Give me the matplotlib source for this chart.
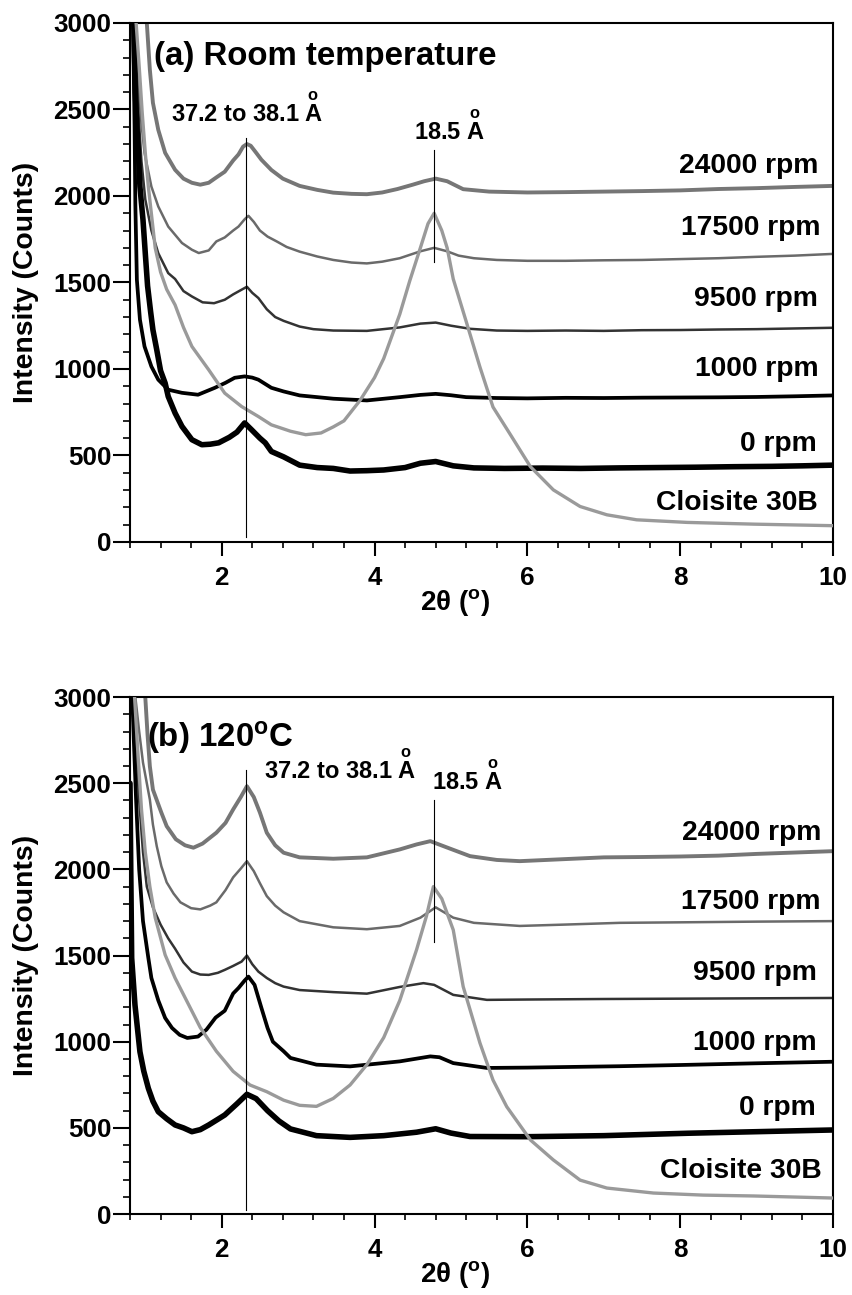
import numpy as np
import matplotlib
matplotlib.use("Agg")
import matplotlib.pyplot as plt
from matplotlib.ticker import MultipleLocator

plt.rcParams.update({
    "font.family": ["Liberation Sans", "DejaVu Sans"],
    "font.weight": "bold",
    "mathtext.fontset": "custom",
    "mathtext.rm": "Liberation Sans:bold",
    "mathtext.it": "Liberation Sans:bold",
    "mathtext.bf": "Liberation Sans:bold",
    "axes.linewidth": 1.5,
})

# ---------------------------------------------------------------------------
# XRD patterns, 2-theta (deg) vs intensity (counts)
# (a) room temperature
RT_24000_X = [1.02, 1.06, 1.10, 1.17, 1.26, 1.39, 1.50, 1.61, 1.72, 1.83, 1.93, 2.04, 2.15, 2.22,
              2.28, 2.33, 2.38, 2.45, 2.52, 2.65, 2.80, 3.02, 3.25, 3.46, 3.70, 3.90, 4.10, 4.30,
              4.50, 4.65, 4.80, 4.95, 5.16, 5.50, 6.00, 6.50, 7.00, 7.50, 8.00, 8.50, 9.00, 9.50, 10.0]
RT_24000_Y = [3000, 2729, 2538, 2382, 2249, 2151, 2100, 2076, 2065, 2076, 2107, 2140, 2205, 2240,
              2285, 2300, 2290, 2250, 2209, 2150, 2100, 2058, 2035, 2019, 2012, 2010, 2020, 2040,
              2065, 2085, 2100, 2085, 2039, 2025, 2020, 2022, 2025, 2028, 2032, 2040, 2045, 2052, 2058]

RT_17500_X = [0.87, 0.91, 0.95, 0.99, 1.08, 1.17, 1.30, 1.48, 1.61, 1.70, 1.83, 1.93, 2.04, 2.15,
              2.22, 2.30, 2.35, 2.42, 2.50, 2.60, 2.72, 2.85, 3.02, 3.25, 3.46, 3.70, 3.90, 4.10,
              4.33, 4.60, 4.78, 4.95, 5.10, 5.30, 5.60, 6.00, 6.50, 7.00, 7.50, 8.00, 8.50, 9.00,
              9.50, 10.0]
RT_17500_Y = [3000, 2632, 2420, 2249, 2054, 1939, 1823, 1728, 1689, 1670, 1685, 1737, 1760, 1800,
              1823, 1865, 1885, 1850, 1800, 1765, 1737, 1705, 1678, 1650, 1630, 1615, 1610, 1620,
              1640, 1680, 1700, 1680, 1655, 1640, 1630, 1625, 1625, 1628, 1630, 1635, 1640, 1648,
              1655, 1665]

RT_9500_X = [0.86, 0.90, 0.95, 1.00, 1.08, 1.17, 1.30, 1.39, 1.50, 1.61, 1.75, 1.90, 2.04, 2.15,
             2.26, 2.33, 2.40, 2.48, 2.59, 2.70, 2.81, 3.02, 3.20, 3.46, 3.90, 4.33, 4.60, 4.80,
             5.00, 5.25, 5.60, 6.00, 6.50, 7.00, 7.50, 8.00, 8.50, 9.00, 9.50, 10.0]
RT_9500_Y = [3000, 2550, 2200, 1980, 1800, 1669, 1554, 1520, 1450, 1419, 1385, 1380, 1400, 1431,
             1458, 1475, 1440, 1410, 1345, 1300, 1278, 1245, 1230, 1222, 1220, 1240, 1262, 1268,
             1250, 1232, 1222, 1220, 1222, 1220, 1224, 1225, 1228, 1230, 1234, 1238]

RT_1000_X = [0.84, 0.86, 0.87, 0.89, 0.93, 0.99, 1.08, 1.17, 1.30, 1.48, 1.69, 1.91, 2.05, 2.17,
             2.30, 2.40, 2.48, 2.65, 2.81, 3.02, 3.46, 3.90, 4.33, 4.60, 4.80, 5.00, 5.20, 5.60,
             6.00, 6.50, 7.00, 7.50, 8.00, 8.50, 9.00, 9.50, 10.0]
RT_1000_Y = [3000, 2400, 1950, 1515, 1285, 1130, 1014, 938, 880, 862, 851, 891, 920, 949,
             957, 950, 938, 891, 870, 847, 828, 818, 837, 850, 856, 848, 837, 832,
             830, 833, 832, 834, 835, 836, 838, 842, 847]

RT_0_X = [0.85, 0.87, 0.89, 0.91, 0.93, 0.97, 1.00, 1.03, 1.07, 1.10, 1.15, 1.20, 1.26, 1.30,
          1.39, 1.48, 1.61, 1.74, 1.85, 1.96, 2.10, 2.20, 2.30, 2.39, 2.50, 2.57, 2.65, 2.81,
          3.02, 3.25, 3.46, 3.68, 3.90, 4.12, 4.40, 4.60, 4.80, 5.03, 5.30, 5.70, 6.20, 6.70,
          7.20, 7.70, 8.20, 8.70, 9.20, 9.60, 10.0]
RT_0_Y = [3000, 2600, 2400, 2249, 2054, 1862, 1669, 1480, 1330, 1226, 1111, 990, 918, 841,
          745, 668, 591, 562, 565, 573, 605, 635, 688, 649, 600, 573, 523, 492,
          444, 430, 425, 410, 412, 416, 430, 455, 465, 440, 428, 425, 427, 425,
          428, 430, 432, 435, 437, 440, 444]

RT_C30B_X = [0.88, 0.92, 0.96, 1.00, 1.04, 1.13, 1.20, 1.28, 1.39, 1.50, 1.61, 1.83, 2.04, 2.26,
             2.48, 2.65, 2.90, 3.10, 3.30, 3.46, 3.60, 3.81, 4.00, 4.12, 4.33, 4.46, 4.60, 4.70,
             4.78, 4.88, 4.95, 5.03, 5.21, 5.38, 5.55, 5.77, 6.04, 6.34, 6.69, 7.04, 7.43, 8.09,
             8.96, 10.0]
RT_C30B_Y = [3000, 2750, 2480, 2250, 2054, 1700, 1560, 1460, 1370, 1240, 1130, 995, 860, 783,
             725, 677, 640, 620, 630, 665, 700, 818, 950, 1060, 1316, 1508, 1700, 1840,
             1900, 1800, 1700, 1520, 1259, 1010, 780, 626, 435, 301, 205, 157, 128, 113,
             103, 94]

# (b) 120 C
HT_24000_X = [1.00, 1.03, 1.06, 1.10, 1.21, 1.28, 1.40, 1.52, 1.63, 1.75, 1.93, 2.05, 2.15, 2.25,
              2.33, 2.42, 2.50, 2.59, 2.70, 2.81, 3.02, 3.46, 3.90, 4.33, 4.55, 4.73, 4.95, 5.25,
              5.60, 5.90, 6.50, 7.00, 7.50, 8.00, 8.50, 9.00, 9.50, 10.0]
HT_24000_Y = [3000, 2780, 2598, 2463, 2330, 2251, 2175, 2140, 2126, 2150, 2213, 2270, 2348, 2420,
              2483, 2420, 2330, 2213, 2140, 2097, 2070, 2062, 2070, 2116, 2145, 2164, 2127, 2077,
              2055, 2048, 2060, 2070, 2072, 2075, 2080, 2090, 2098, 2106]

HT_17500_X = [0.87, 0.92, 0.97, 1.02, 1.06, 1.10, 1.15, 1.21, 1.28, 1.37, 1.46, 1.60, 1.72, 1.85,
              1.93, 2.05, 2.15, 2.25, 2.33, 2.42, 2.50, 2.59, 2.70, 2.81, 3.02, 3.46, 3.90, 4.33,
              4.60, 4.80, 5.03, 5.30, 5.90, 6.50, 7.21, 8.00, 9.00, 10.0]
HT_17500_Y = [3000, 2800, 2620, 2500, 2405, 2260, 2135, 2019, 1925, 1860, 1809, 1775, 1768, 1790,
              1809, 1880, 1954, 2005, 2048, 1990, 1920, 1845, 1790, 1751, 1700, 1664, 1653, 1672,
              1720, 1780, 1720, 1690, 1672, 1680, 1690, 1693, 1697, 1700]

HT_9500_X = [0.85, 0.88, 0.92, 0.97, 1.02, 1.10, 1.20, 1.30, 1.39, 1.50, 1.61, 1.72, 1.83, 1.95,
             2.04, 2.15, 2.26, 2.33, 2.40, 2.48, 2.59, 2.70, 2.81, 3.02, 3.46, 3.90, 4.33, 4.64,
             4.78, 5.03, 5.47, 6.00, 7.00, 8.00, 9.00, 10.0]
HT_9500_Y = [3000, 2700, 2400, 2100, 1900, 1780, 1680, 1600, 1540, 1460, 1407, 1390, 1388, 1400,
             1417, 1440, 1465, 1500, 1450, 1407, 1370, 1340, 1320, 1300, 1288, 1279, 1318, 1340,
             1330, 1272, 1243, 1245, 1248, 1250, 1252, 1254]

HT_1000_X = [0.83, 0.85, 0.88, 0.92, 0.97, 1.04, 1.08, 1.17, 1.26, 1.35, 1.45, 1.55, 1.69, 1.80,
             1.92, 2.04, 2.15, 2.22, 2.30, 2.35, 2.43, 2.52, 2.60, 2.67, 2.81, 2.90, 3.24, 3.68,
             4.33, 4.73, 4.85, 5.03, 5.47, 6.00, 7.21, 8.00, 9.00, 10.0]
HT_1000_Y = [3000, 2750, 2400, 2000, 1700, 1486, 1370, 1240, 1138, 1080, 1040, 1022, 1030, 1070,
             1140, 1180, 1280, 1312, 1355, 1378, 1330, 1196, 1080, 1000, 945, 906, 867, 857,
             886, 915, 910, 876, 848, 850, 858, 865, 875, 884]

HT_0_X = [0.80, 0.81, 0.822, 0.865, 0.93, 0.98, 1.04, 1.10, 1.17, 1.28, 1.39, 1.50, 1.61, 1.72,
          1.83, 1.95, 2.04, 2.20, 2.33, 2.45, 2.60, 2.75, 2.90, 3.24, 3.68, 4.12, 4.55, 4.80,
          5.00, 5.25, 6.00, 7.00, 8.10, 9.00, 10.0]
HT_0_Y = [2500, 2000, 1486, 1214, 942, 830, 730, 655, 594, 553, 517, 500, 478, 490,
          517, 550, 575, 640, 695, 670, 600, 540, 494, 455, 445, 455, 475, 495,
          470, 450, 449, 455, 469, 478, 488]

HT_C30B_X = [0.86, 0.90, 0.95, 1.00, 1.06, 1.13, 1.26, 1.39, 1.54, 1.72, 1.93, 2.15, 2.37, 2.59,
             2.81, 3.02, 3.24, 3.46, 3.68, 3.90, 4.12, 4.33, 4.55, 4.68, 4.77, 4.88, 5.03, 5.16,
             5.38, 5.55, 5.73, 6.04, 6.34, 6.69, 7.04, 7.65, 8.30, 8.96, 10.0]
HT_C30B_Y = [3000, 2700, 2350, 2100, 1900, 1720, 1504, 1370, 1239, 1082, 945, 828, 749, 710,
             661, 631, 625, 671, 749, 867, 1024, 1239, 1534, 1730, 1900, 1830, 1649, 1320,
             992, 778, 623, 430, 314, 197, 151, 122, 110, 105, 93]

SAMPLES = ["24000 rpm", "17500 rpm", "9500 rpm", "1000 rpm", "0 rpm", "Cloisite 30B"]

# basal spacings marked on the patterns (angstrom)
D_INTERCALATED = (37.2, 38.1)
D_CLAY = 18.5
WAVELENGTH = 1.5406  # Cu K-alpha, angstrom

X_TICKS = [2, 4, 6, 8, 10]
Y_TICKS = [0, 500, 1000, 1500, 2000, 2500, 3000]


def two_theta(d):
    """Bragg angle 2-theta (deg) for basal spacing d (angstrom)."""
    return np.degrees(2 * np.arcsin(WAVELENGTH / (2 * d)))


STYLES = {
    "24000 rpm": dict(color="#767676", lw=2.8, zorder=2),
    "17500 rpm": dict(color="#6a6a6a", lw=1.8, zorder=2),
    "9500 rpm": dict(color="#333333", lw=1.8, zorder=2),
    "1000 rpm": dict(color="#000000", lw=2.7, zorder=3),
    "0 rpm": dict(color="#000000", lw=4.0, zorder=3),
    "Cloisite 30B": dict(color="#9a9a9a", lw=2.4, zorder=4),
}

ANGSTROM = r"$\overset{\mathrm{o}}{\mathrm{A}}$"

fig = plt.figure(figsize=(8.53, 12.95), dpi=100)
ax_a = fig.add_axes([0.1524, 0.5815, 0.8242, 0.4008])
ax_b = fig.add_axes([0.1524, 0.0625, 0.8242, 0.3992])

panels = [
    (ax_a,
     [(RT_24000_X, RT_24000_Y), (RT_17500_X, RT_17500_Y), (RT_9500_X, RT_9500_Y),
      (RT_1000_X, RT_1000_Y), (RT_0_X, RT_0_Y), (RT_C30B_X, RT_C30B_Y)]),
    (ax_b,
     [(HT_24000_X, HT_24000_Y), (HT_17500_X, HT_17500_Y), (HT_9500_X, HT_9500_Y),
      (HT_1000_X, HT_1000_Y), (HT_0_X, HT_0_Y), (HT_C30B_X, HT_C30B_Y)]),
]

for ax, series in panels:
    for name, (xs, ys) in zip(SAMPLES, series):
        ax.plot(xs, ys, solid_capstyle="round", solid_joinstyle="round", **STYLES[name])
    ax.set_xlim(0.8, 10)
    ax.set_ylim(0, 3000)
    ax.set_xticks(X_TICKS)
    ax.set_yticks(Y_TICKS)
    ax.xaxis.set_minor_locator(MultipleLocator(0.4))
    ax.yaxis.set_minor_locator(MultipleLocator(100))
    ax.tick_params(axis="y", which="major", direction="out", length=12, width=1.5,
                   pad=1.5, labelsize=18.7)
    ax.tick_params(axis="y", which="minor", direction="out", length=5, width=1.2)
    ax.tick_params(axis="x", which="major", direction="out", length=10, width=1.5,
                   pad=7, labelsize=18.7)
    ax.tick_params(axis="x", which="minor", direction="out", length=4.3, width=1.2)
    ax.set_xlabel(r"2θ ($^{\mathrm{o}}$)", fontsize=20, fontweight="bold")
    ax.xaxis.set_label_coords(0.462, -0.1175)
    ax.xaxis.label.set_va("center")
    ax.set_ylabel("Intensity (Counts)", fontsize=20.4, fontweight="bold")
    ax.yaxis.set_label_coords(-0.148, 0.5)
    ax.yaxis.label.set_va("center")

# peak position markers from the basal spacings
x_int = two_theta(D_INTERCALATED[1])
x_clay = two_theta(D_CLAY)
ax_a.plot([x_int, x_int], [30, 2336], color="black", lw=0.8, zorder=6)
ax_a.plot([x_clay, x_clay], [1621, 2266], color="black", lw=0.8, zorder=6)
ax_b.plot([x_int, x_int], [23, 2578], color="black", lw=0.8, zorder=6)
ax_b.plot([x_clay, x_clay], [1581, 2404], color="black", lw=0.8, zorder=6)

spacing_label = f"{D_INTERCALATED[0]} to {D_INTERCALATED[1]} " + ANGSTROM
clay_label = f"{D_CLAY} " + ANGSTROM

# panel (a) annotations
ax_a.text(1.12, 2757, "(a) Room temperature", fontsize=23.8, fontweight="bold",
          ha="left", va="baseline")
ax_a.text(3.33, 2430, spacing_label, fontsize=17, fontweight="bold", ha="right", va="baseline")
ax_a.text(5.447, 2325, clay_label, fontsize=17, fontweight="bold", ha="right", va="baseline")

for name, xr, yb in zip(SAMPLES, [9.805, 9.83, 9.805, 9.805, 9.79, 9.805],
                        [2132, 1775, 1365, 957, 523, 187]):
    ax_a.text(xr, yb, name, fontsize=20.3, fontweight="bold", ha="right", va="baseline")

# panel (b) annotations
ax_b.text(1.02, 2713, r"(b) 120$^{\mathrm{o}}$C", fontsize=23.8, fontweight="bold",
          ha="left", va="baseline")
ax_b.text(4.553, 2522, spacing_label, fontsize=17, fontweight="bold", ha="right", va="baseline")
ax_b.text(5.686, 2460, clay_label, fontsize=17, fontweight="bold", ha="right", va="baseline")

for name, xr, yb in zip(SAMPLES, [9.853, 9.83, 9.79, 9.79, 9.77, 9.853],
                        [2170, 1768, 1358, 952, 574, 207]):
    ax_b.text(xr, yb, name, fontsize=20.3, fontweight="bold", ha="right", va="baseline")

fig.savefig("out.png", dpi=100)
